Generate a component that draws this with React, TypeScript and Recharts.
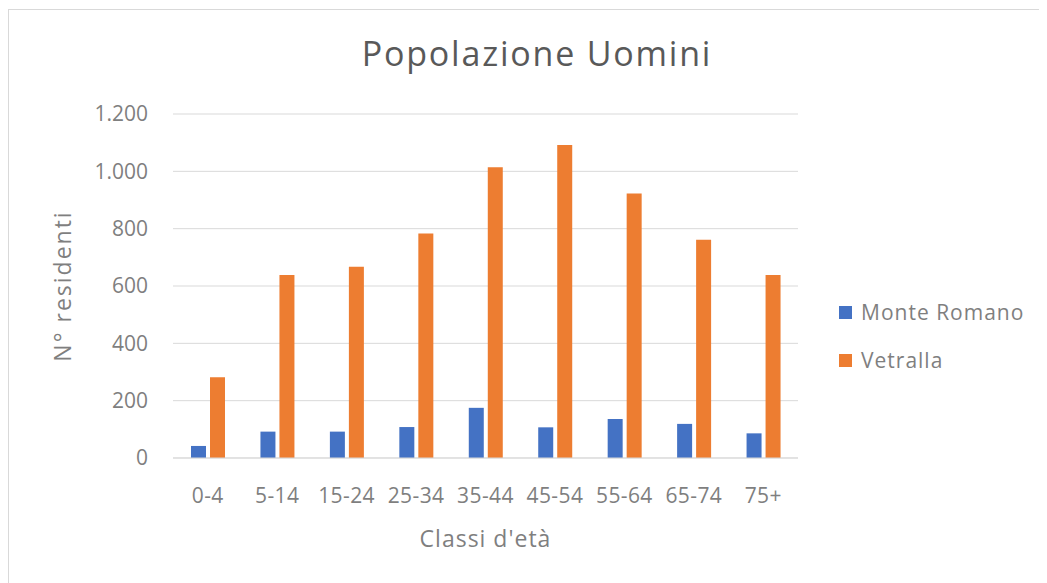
import { Bar, BarChart, CartesianGrid, Legend, XAxis, YAxis } from "recharts";

const classi = ["0-4", "5-14", "15-24", "25-34", "35-44", "45-54", "55-64", "65-74", "75+"];
const monteRomano = [42, 92, 92, 108, 175, 107, 136, 119, 86];
const vetralla = [282, 638, 667, 783, 1014, 1092, 923, 761, 638];
const yTicks = [0, 200, 400, 600, 800, 1000, 1200];

const dati = classi.map((c, i) => ({
  classe: c,
  monteRomano: monteRomano[i],
  vetralla: vetralla[i],
}));

const FONT = "'Open Sans', sans-serif";
const GREY = "#7f7f7f";

const formatIt = (v: number) => String(v).replace(/\B(?=(\d{3})+(?!\d))/g, ".");

function Legenda({ payload }: any) {
  return (
    <div style={{ fontFamily: FONT, fontSize: 21, color: GREY, letterSpacing: 1 }}>
      {(payload || []).map((p: any) => (
        <div key={p.value} style={{ display: "flex", alignItems: "center", height: 48 }}>
          <span style={{ width: 13, height: 13, background: p.color, marginRight: 9, display: "inline-block" }} />
          {p.value}
        </div>
      ))}
    </div>
  );
}

export default function App() {
  return (
    <div
      style={{
        position: "relative",
        width: 1037,
        height: 573,
        border: "1px solid #d9d9d9",
        marginTop: 1,
        background: "#fff",
      }}
    >
      <div
        style={{
          position: "absolute",
          top: 20,
          left: 0,
          width: 1056,
          textAlign: "center",
          fontFamily: FONT,
          fontSize: 34,
          letterSpacing: 1.8,
          color: "#595959",
        }}
      >
        Popolazione Uomini
      </div>
      <BarChart
        width={1037}
        height={573}
        data={dati}
        margin={{ top: 104, right: 48, bottom: 25, left: 30 }}
        barGap={4}
        barSize={15}
      >
        <CartesianGrid vertical={false} stroke="#d9d9d9" />
        <XAxis
          dataKey="classe"
          height={100}
          tickLine={false}
          axisLine={{ stroke: "#d9d9d9" }}
          tickMargin={24}
          tick={{ fontSize: 21, fill: GREY, fontFamily: FONT, letterSpacing: 0.4 }}
          interval={0}
          label={{
            value: "Classi d'età",
            position: "insideBottom",
            offset: 11,
            style: { fontSize: 23, fill: GREY, fontFamily: FONT, letterSpacing: 1 },
          }}
        />
        <YAxis
          width={134}
          domain={[0, 1200]}
          ticks={yTicks}
          tickFormatter={formatIt}
          tickLine={false}
          axisLine={false}
          tickMargin={19}
          tick={{ fontSize: 21, fill: GREY, fontFamily: FONT }}
          label={{
            value: "N° residenti",
            angle: -90,
            position: "insideLeft",
            offset: 24,
            style: { fontSize: 23, fill: GREY, fontFamily: FONT, letterSpacing: 2, textAnchor: "middle" },
          }}
        />
        <Legend
          layout="vertical"
          align="right"
          verticalAlign="top"
          content={<Legenda />}
          wrapperStyle={{ top: 278, left: 830, width: 200 }}
        />
        <Bar dataKey="monteRomano" name="Monte Romano" fill="#4472c4" isAnimationActive={false} />
        <Bar dataKey="vetralla" name="Vetralla" fill="#ed7d31" isAnimationActive={false} />
      </BarChart>
    </div>
  );
}
